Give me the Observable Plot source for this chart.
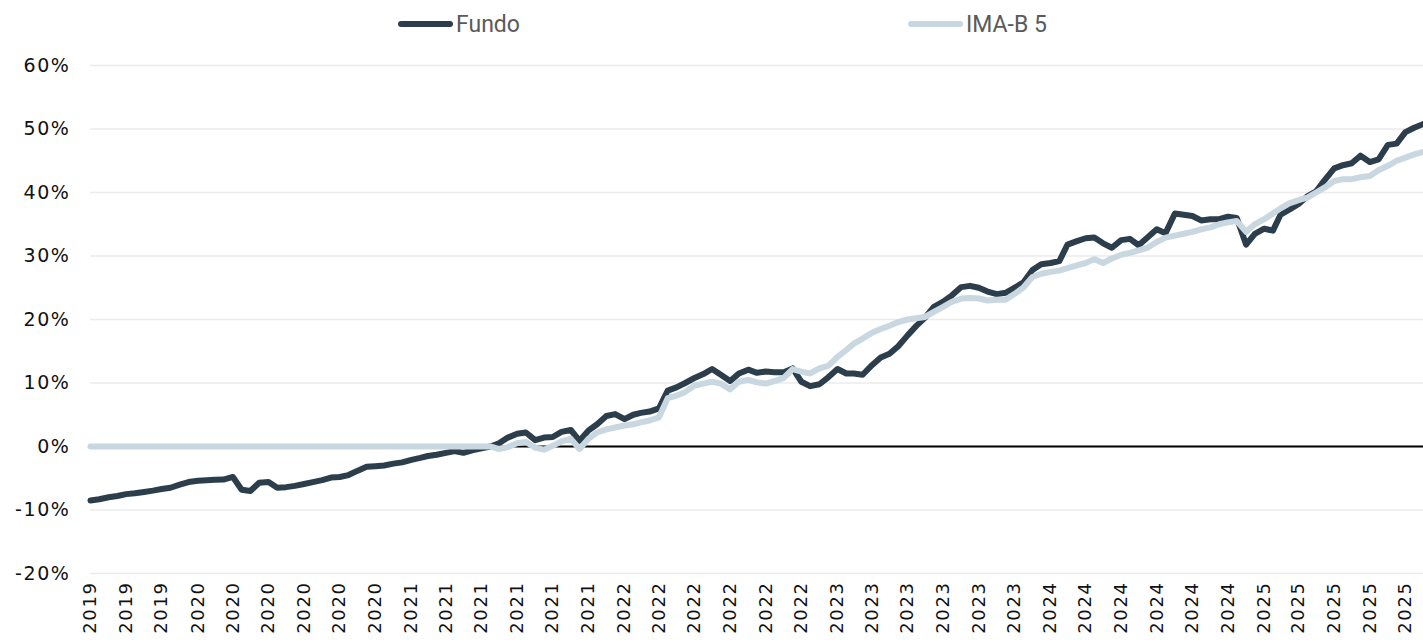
<!DOCTYPE html>
<html><head><meta charset="utf-8">
<script src="https://cdn.jsdelivr.net/npm/d3@7"></script>
<script src="https://cdn.jsdelivr.net/npm/@observablehq/plot@0.6"></script>
<style>
body{margin:0;background:#fff;width:1423px;height:642px;overflow:hidden}
#legend{position:relative;height:45px;font-family:Roboto,sans-serif;font-size:23px;color:#5a5a5a}
.item{position:absolute;top:10px;display:flex;align-items:center;height:28px;white-space:nowrap}
.sw{width:55px;height:6px;border-radius:3px;margin-right:3px}
#chart svg text{letter-spacing:1.6px}
</style></head><body>
<div id="legend"></div>
<div id="chart"></div>
<script>
const seriesNames = ["Fundo", "IMA-B 5"];
const seriesColors = ["#2c3e4c", "#c9d7e0"];
const legendLeft = [398, 908];

// semi-monthly observation dates (1st and 16th of each month), Aug 2019 – Nov 2025
const startDate = "2019-08-01", endDate = "2025-11-01";

// Fundo cumulative return (%)
const fundo = [
 -8.5,-8.3, -8.0,-7.8, -7.5,-7.35, -7.15,-6.95, -6.7,-6.5,
 -6.0,-5.6, -5.4,-5.3, -5.25,-5.2, -4.8,-6.8, -7.0,-5.7,
 -5.6,-6.5, -6.4,-6.2, -5.9,-5.6, -5.3,-4.9, -4.8,-4.5,
 -3.8,-3.2, -3.1,-3.0, -2.7,-2.5, -2.1,-1.8, -1.5,-1.3,
 -1.0,-0.7, -1.0,-0.6, -0.3,0.0, 0.5,1.4, 2.0,2.2,
 1.0,1.4, 1.5,2.3, 2.6,0.9, 2.5,3.5, 4.8,5.1,
 4.3,5.0, 5.3,5.5, 6.0,8.8, 9.3,10.0, 10.8,11.4,
 12.2,11.3, 10.3,11.5, 12.1,11.6, 11.8,11.7, 11.7,12.3,
 10.2,9.5, 9.8,10.9, 12.2,11.5, 11.5,11.3, 12.8,14.0,
 14.6,15.8, 17.5,19.0, 20.3,22.0, 22.8,23.8, 25.1,25.3,
 25.0,24.4, 24.0,24.2, 25.0,25.8, 27.8,28.7, 28.9,29.2,
 31.8,32.3, 32.8,32.9, 32.0,31.3, 32.5,32.7, 31.7,32.9,
 34.2,33.6, 36.7,36.5, 36.3,35.6, 35.8,35.8, 36.2,36.0,
 31.8,33.5, 34.3,34.0, 36.5,37.3, 38.2,39.4, 40.2,42.0,
 43.8,44.3, 44.6,45.8, 44.8,45.2, 47.5,47.7, 49.5,50.2,
 50.8
];

// IMA-B 5 cumulative return (%)
const imab5 = [
 0,0, 0,0, 0,0, 0,0, 0,0,
 0,0, 0,0, 0,0, 0,0, 0,0,
 0,0, 0,0, 0,0, 0,0, 0,0,
 0,0, 0,0, 0,0, 0,0, 0,0,
 0,0, 0,0, 0,0, -0.4,-0.1, 0.5,0.7,
 -0.2,-0.5, 0.1,0.8, 1.2,-0.4, 1.2,2.2, 2.7,3.0,
 3.3,3.5, 3.8,4.1, 4.6,7.6, 8.0,8.6, 9.6,9.9,
 10.2,9.9, 9.0,10.2, 10.5,10.1, 9.9,10.3, 10.8,12.2,
 11.8,11.5, 12.3,12.7, 14.1,15.2, 16.2,17.0, 17.9,18.5,
 19.0,19.6, 20.0,20.2, 20.4,21.2, 22.0,22.8, 23.3,23.4,
 23.3,23.0, 23.1,23.1, 24.0,25.0, 26.7,27.2, 27.5,27.7,
 28.1,28.5, 28.9,29.5, 28.9,29.6, 30.2,30.5, 30.9,31.3,
 32.2,32.9, 33.2,33.5, 33.8,34.2, 34.5,35.0, 35.3,35.5,
 33.8,35.0, 35.8,36.7, 37.5,38.3, 38.8,39.2, 40.0,40.8,
 41.8,42.1, 42.1,42.4, 42.6,43.5, 44.2,45.0, 45.5,46.0,
 46.4
];

const yTicks = [-20,-10,0,10,20,30,40,50,60];

const tickDates = [
 "2019-08-01","2019-10-01","2019-12-01",
 "2020-02-01","2020-04-01","2020-06-01","2020-08-01","2020-10-01","2020-12-01",
 "2021-02-01","2021-04-01","2021-06-01","2021-08-01","2021-10-01","2021-12-01",
 "2022-02-01","2022-04-01","2022-06-01","2022-08-01","2022-10-01","2022-12-01",
 "2023-02-01","2023-04-01","2023-06-01","2023-08-01","2023-10-01","2023-12-01",
 "2024-02-01","2024-04-01","2024-06-01","2024-08-01","2024-10-01","2024-12-01",
 "2025-02-01","2025-04-01","2025-06-01","2025-08-01","2025-10-01"
];

const dates = [];
for (const m of d3.utcMonth.range(new Date(startDate), new Date(endDate))) {
  dates.push(m, d3.utcDay.offset(m, 15));
}
dates.push(new Date(endDate));

const rows = [];
[fundo, imab5].forEach((vals, s) => vals.forEach((v, i) => rows.push({date: dates[i], v, s: seriesNames[s]})));

// legend
const leg = document.getElementById("legend");
seriesNames.forEach((n, i) => {
  const it = document.createElement("div");
  it.className = "item";
  it.style.left = legendLeft[i] + "px";
  it.innerHTML = `<span class="sw" style="background:${seriesColors[i]}"></span><span>${n}</span>`;
  leg.appendChild(it);
});

const chart = Plot.plot({
  width: 1423, height: 597,
  marginTop: 20, marginBottom: 69, marginLeft: 90, marginRight: 0,
  style: {fontFamily: "'DejaVu Sans', sans-serif", fontSize: "18px", color: "#111", background: "#fff"},
  x: {type: "utc", domain: [dates[0], dates[dates.length - 1]]},
  y: {domain: [-20, 60]},
  marks: [
    Plot.gridY(yTicks, {stroke: "#ebebeb", strokeOpacity: 1, strokeWidth: 1.5}),
    Plot.ruleY([0], {stroke: "#000", strokeWidth: 2}),
    Plot.axisY(yTicks, {tickSize: 0, tickPadding: 20, tickFormat: d => d + "%", label: null, fontSize: 19}),
    Plot.axisX(tickDates.map(d => new Date(d)), {tickSize: 0, tickPadding: 8, tickRotate: -90, tickFormat: d3.utcFormat("%Y"), label: null, fontSize: 18}),
    Plot.lineY(rows.filter(r => r.s === seriesNames[0]), {x: "date", y: "v", stroke: seriesColors[0], strokeWidth: 6, strokeLinejoin: "round", strokeLinecap: "round"}),
    Plot.lineY(rows.filter(r => r.s === seriesNames[1]), {x: "date", y: "v", stroke: seriesColors[1], strokeWidth: 6, strokeLinejoin: "round", strokeLinecap: "round"})
  ]
});
document.getElementById("chart").appendChild(chart);
</script>
</body></html>
